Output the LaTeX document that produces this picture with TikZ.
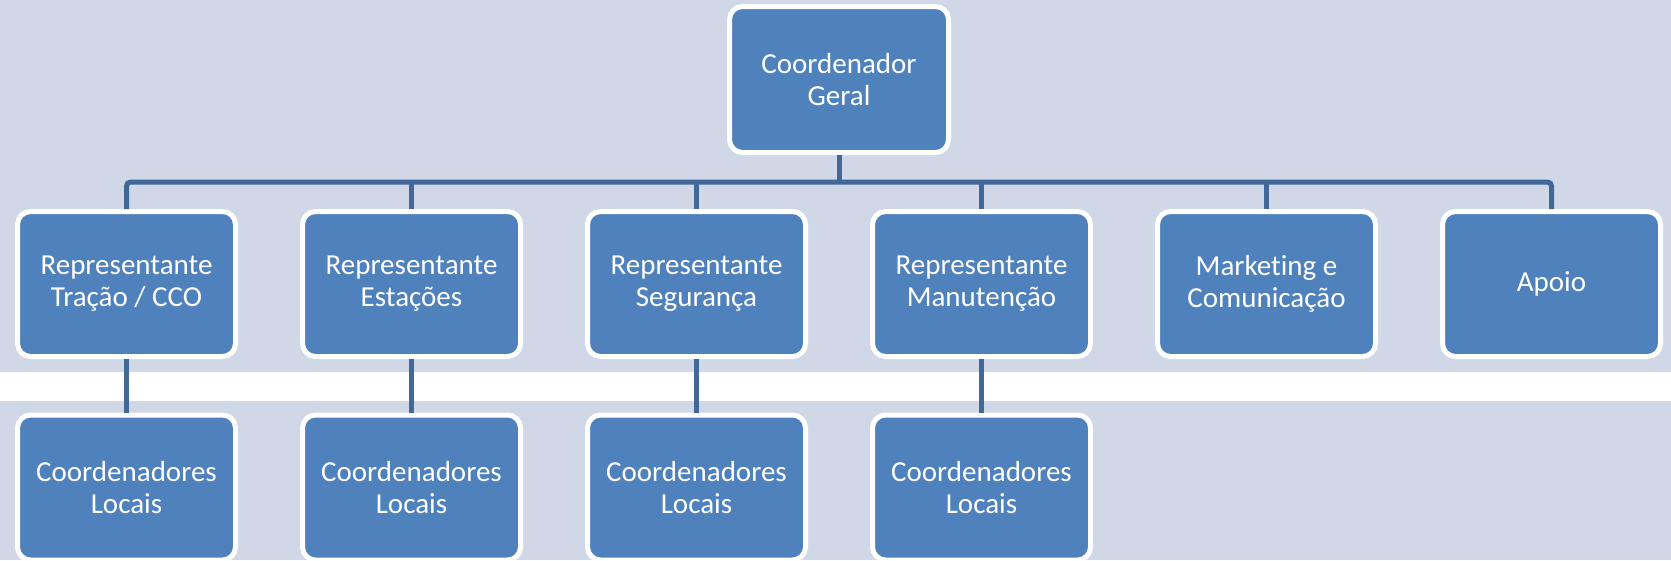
\documentclass[tikz,border=0pt]{standalone}
\usepackage{fontspec}
\setmainfont[Ligatures={NoCommon}]{Carlito}
\definecolor{bgblue}{HTML}{D0D8E8}
\definecolor{boxblue}{HTML}{4F81BD}
\definecolor{linkblue}{RGB}{65,104,152}
\tikzset{
  orgbox/.style={draw=white, line width=5pt, fill=boxblue, rounded corners=13pt,
    minimum width=218pt, minimum height=145pt, align=center, text=white,
    font=\fontsize{29}{32}\selectfont, inner sep=0pt},
  topbox/.style={orgbox, minimum width=219pt, minimum height=146pt},
  conn/.style={draw=linkblue, line width=5pt}
}
\begin{document}
\begin{tikzpicture}[x=1pt,y=-1pt]
\useasboundingbox (0,0) rectangle (1671,560);
\fill[bgblue] (0,0) rectangle (1671,560);
\fill[white] (0,372) rectangle (1671,401);

\node[topbox] (top) at (839,79.5) {Coordenador\\Geral};

\node[orgbox] (r1) at (126.5,284) {Representante\\Tração / CCO};
\node[orgbox] (r2) at (411.5,284) {Representante\\Estações};
\node[orgbox] (r3) at (696.5,284) {Representante\\Segurança};
\node[orgbox] (r4) at (981.5,284) {Representante\\Manutenção};
\node[orgbox] (r5) at (1266.5,284) {Marketing e\\Comunicação};
\node[orgbox] (r6) at (1551.5,284) {Apoio};

\node[orgbox] (c1) at (126.5,487.5) {Coordenadores\\Locais};
\node[orgbox] (c2) at (411.5,487.5) {Coordenadores\\Locais};
\node[orgbox] (c3) at (696.5,487.5) {Coordenadores\\Locais};
\node[orgbox] (c4) at (981.5,487.5) {Coordenadores\\Locais};

\coordinate (bus) at (839,182);
\draw[conn, rounded corners=4pt] (r1.north) |- (bus) -| (r6.north);
\draw[conn] (top.south) -- (top.south |- bus);
\foreach \n in {r2,r3,r4,r5}{
  \draw[conn] (\n.north) -- (\n.north |- bus);
}
\foreach \i in {1,2,3,4}{
  \draw[conn] (r\i.south) -- (c\i.north);
}
\end{tikzpicture}
\end{document}
